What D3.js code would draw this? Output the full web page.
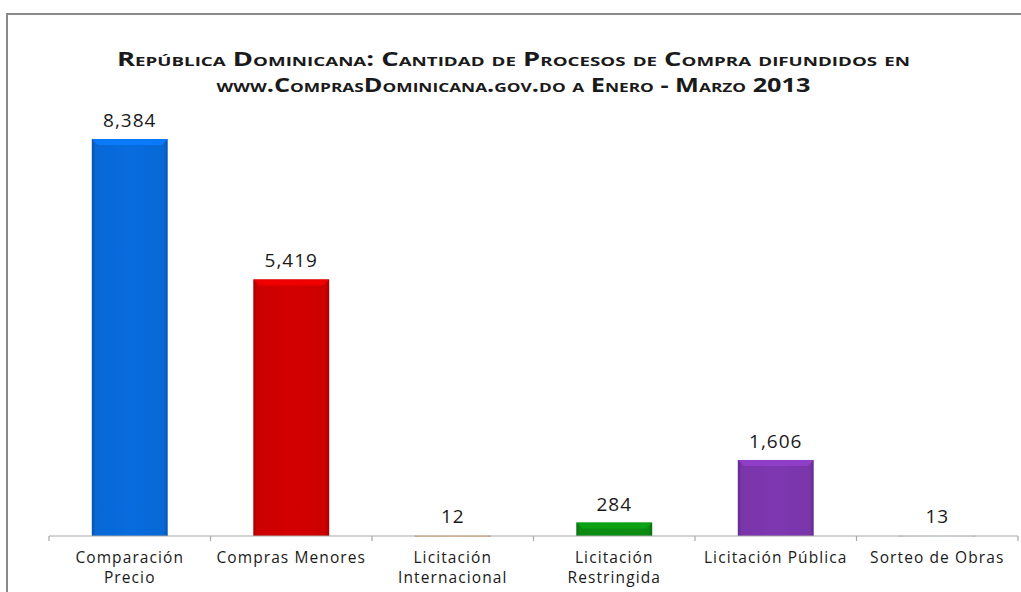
<!DOCTYPE html>
<html><head><meta charset="utf-8">
<script src="https://cdn.jsdelivr.net/npm/d3@7"></script>
<style>html,body{margin:0;padding:0;background:#fff;}svg{display:block;}</style>
</head><body>
<svg id="c" width="1021" height="592"></svg>
<script>
const categories = [["Comparación","Precio"],["Compras Menores"],["Licitación","Internacional"],["Licitación","Restringida"],["Licitación Pública"],["Sorteo de Obras"]];
const values = [8384, 5419, 12, 284, 1606, 13];
const valueLabels = ["8,384","5,419","12","284","1,606","13"];
const colors = ["#0868d6","#cc0000","#f2b27a","#0b8a12","#7a35aa","#e4eef5"];
const titleLines = ["República Dominicana: Cantidad de Procesos de Compra difundidos en","www.ComprasDominicana.gov.do  a Enero - Marzo 2013"];

const svg = d3.select("#c");
svg.append("rect").attr("x",7).attr("y",14).attr("width",1040).attr("height",620)
  .attr("fill","#fff").attr("stroke","#8a8a8a").attr("stroke-width",2);

const x = d3.scaleBand().domain(d3.range(categories.length)).range([49,1018]).paddingInner(0.53).paddingOuter(0.265);
const y = d3.scaleLinear().domain([0, 8384]).range([536, 139]);

const defs = svg.append("defs");
colors.forEach((c,i)=>{
  const g = defs.append("linearGradient").attr("id","g"+i).attr("x1",0).attr("x2",1).attr("y1",0).attr("y2",0);
  const dk = d3.color(c).darker(0.6), lt = d3.color(c).brighter(0.1);
  g.append("stop").attr("offset","0%").attr("stop-color",dk);
  g.append("stop").attr("offset","5%").attr("stop-color",c);
  g.append("stop").attr("offset","50%").attr("stop-color",lt);
  g.append("stop").attr("offset","95%").attr("stop-color",c);
  g.append("stop").attr("offset","100%").attr("stop-color",dk);
});

// title
const t = svg.append("g");
titleLines.forEach((l,i)=>{
  t.append("text").attr("x",513.5).attr("y",[66,92][i]).attr("text-anchor","middle")
   .style("font-family","'Open Sans',sans-serif").style("font-weight","bold")
   .style("font-size","19px").style("font-variant","small-caps").attr("fill","#1a1a1a")
   .attr("textLength",[793,594][i]).attr("lengthAdjust","spacingAndGlyphs").text(l);
});

// bars
const bars = svg.append("g");
values.forEach((v,i)=>{
  const bx = x(i), bw = x.bandwidth(), top = y(v), h = y(0)-y(v);
  bars.append("rect").attr("x",bx).attr("y",top).attr("width",bw).attr("height",Math.max(h,1.5))
    .attr("fill","url(#g"+i+")");
  const bev = Math.min(6, h/2);
  if (h > 4) {
    bars.append("path").attr("d",`M${bx},${top}L${bx+bw},${top}L${bx+bw-bev},${top+bev}L${bx+bev},${top+bev}Z`)
      .attr("fill",d3.color(colors[i]).brighter(0.5)).attr("opacity",0.85);
  }
  svg.append("text").attr("x",bx+bw/2).attr("y",top-12).attr("text-anchor","middle")
    .style("font-family","'Open Sans',sans-serif").style("font-size","19px").style("letter-spacing","1px").attr("fill","#1a1a1a")
    .text(valueLabels[i]);
});

// axis
const ax = svg.append("g").attr("transform","translate(0,536)");
ax.append("line").attr("x1",49).attr("x2",1018).attr("stroke","#a8a8a8").attr("stroke-width",1.2);
d3.range(categories.length+1).forEach(k=>{
  const xx = 49 + k*(1018-49)/categories.length;
  ax.append("line").attr("x1",xx).attr("x2",xx).attr("y1",0).attr("y2",5).attr("stroke","#a8a8a8").attr("stroke-width",1.2);
});
categories.forEach((lines,i)=>{
  lines.forEach((l,j)=>{
    svg.append("text").attr("x",x(i)+x.bandwidth()/2).attr("y",563+j*20).attr("text-anchor","middle")
      .style("font-family","'Open Sans',sans-serif").style("font-size","15.5px").style("letter-spacing","1.1px").attr("fill","#1a1a1a").text(l);
  });
});
</script>
</body></html>
